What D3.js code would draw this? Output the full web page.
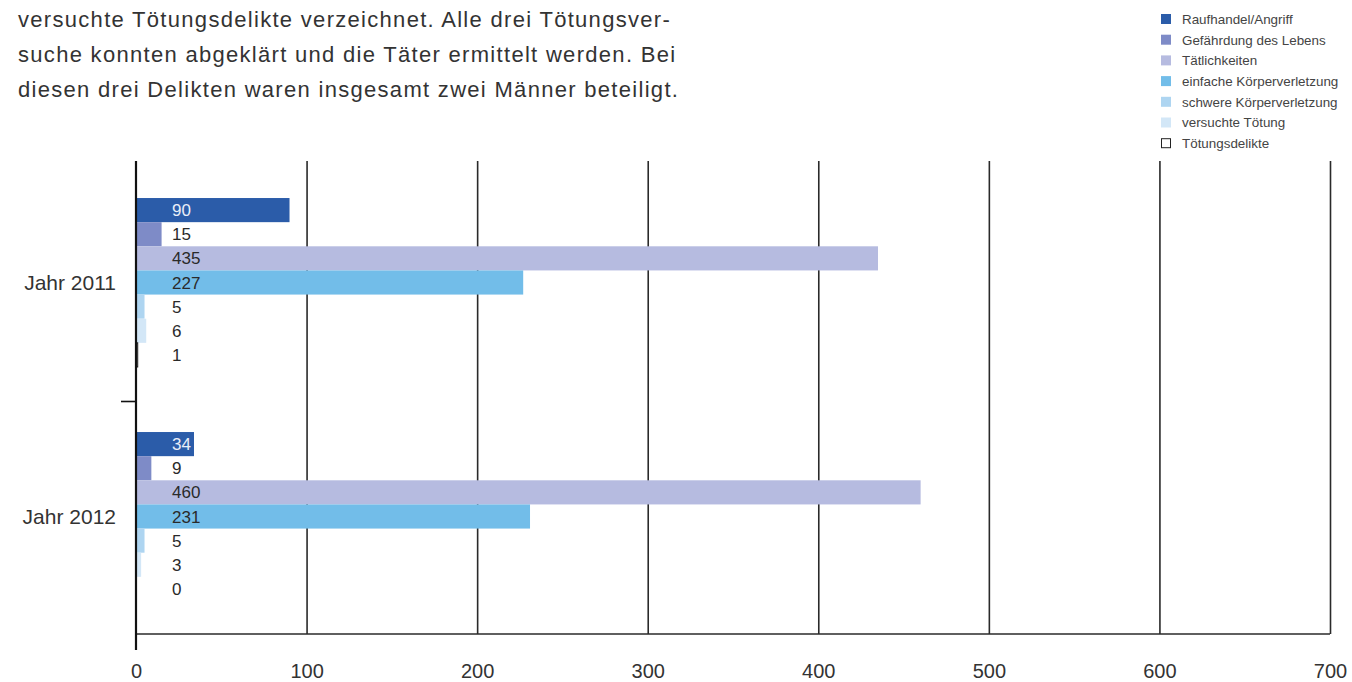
<!DOCTYPE html>
<html>
<head>
<meta charset="utf-8">
<script src="https://cdn.jsdelivr.net/npm/d3@7"></script>
<style>
  body { margin: 0; background: #fff; }
  svg { display: block; font-family: "Liberation Sans", Arial, sans-serif; }
</style>
</head>
<body>
<svg id="chart" width="1352" height="682"></svg>
<script>
// chart data
const years = ['Jahr 2011', 'Jahr 2012'];
const categories = [
  'Raufhandel/Angriff',
  'Gefährdung des Lebens',
  'Tätlichkeiten',
  'einfache Körperverletzung',
  'schwere Körperverletzung',
  'versuchte Tötung',
  'Tötungsdelikte'
];
const values2011 = [90, 15, 435, 227, 5, 6, 1];
const values2012 = [34, 9, 460, 231, 5, 3, 0];
const xTicks = [0, 100, 200, 300, 400, 500, 600, 700];
const colors = ['#2b5ca9', '#7e8bc7', '#b6bbe0', '#72bde9', '#aed5f1', '#d3e7f7', '#ffffff'];
const introLines = [
  'versuchte Tötungsdelikte verzeichnet. Alle drei Tötungsver-',
  'suche konnten abgeklärt und die Täter ermittelt werden. Bei',
  'diesen drei Delikten waren insgesamt zwei Männer beteiligt.'
];

const svg = d3.select('#chart');
const rows = [values2011, values2012];

// layout
const plotLeft = 136, plotRight = 1330, plotTop = 161, plotBottom = 634;

const x = d3.scaleLinear().domain([0, 700]).range([plotLeft, plotRight]);
// outer band: one per year, inner band: one per category
const y = d3.scaleBand().domain(years).range([165.5, 633.5]).paddingInner(0.278).paddingOuter(0.139);
const yInner = d3.scaleBand().domain(categories).range([0, y.bandwidth()]);

// intro paragraph (the source font is wider than Liberation Sans)
svg.append('g')
  .selectAll('text')
  .data(introLines)
  .join('text')
  .attr('x', 18)
  .attr('y', (d, i) => 27 + i * 35)
  .attr('font-size', 22)
  .attr('letter-spacing', 1.3)
  .attr('fill', '#333')
  .text(d => d);

// gridlines + x axis labels
const xAxis = svg.append('g')
  .attr('transform', 'translate(0,' + plotBottom + ')')
  .call(d3.axisBottom(x).tickValues(xTicks).tickSizeInner(-(plotBottom - plotTop)).tickSizeOuter(0).tickPadding(30).tickFormat(d3.format('d')));
xAxis.select('.domain').remove();
xAxis.selectAll('.tick line').attr('stroke', '#2a2a2a').attr('stroke-width', 1.6);
xAxis.selectAll('.tick').filter(d => d === 0).select('line').remove();
xAxis.selectAll('.tick text')
  .attr('font-size', 20)
  .attr('fill', '#333')
  .attr('font-family', '"Liberation Sans", Arial, sans-serif')
  .attr('dy', '0.71em');

// x baseline
svg.append('line')
  .attr('x1', plotLeft).attr('x2', plotRight)
  .attr('y1', plotBottom).attr('y2', plotBottom)
  .attr('stroke', '#2a2a2a').attr('stroke-width', 1.6);

// bars
const groups = svg.append('g')
  .selectAll('g')
  .data(rows)
  .join('g')
  .attr('transform', (d, i) => 'translate(0,' + y(years[i]) + ')');

groups.selectAll('rect')
  .data(d => d)
  .join('rect')
  .attr('x', x(0))
  .attr('y', (d, i) => yInner(categories[i]))
  .attr('width', d => x(d) - x(0))
  .attr('height', yInner.bandwidth())
  .attr('fill', (d, i) => colors[i])
  .attr('stroke', (d, i) => i === 6 && d > 0 ? '#111' : 'none')
  .attr('stroke-width', 1);

groups.selectAll('text')
  .data(d => d)
  .join('text')
  .attr('x', x(0) + 36)
  .attr('y', (d, i) => yInner(categories[i]) + yInner.bandwidth() / 2)
  .attr('dy', '0.36em')
  .attr('font-size', 17)
  .attr('fill', (d, i) => i === 0 ? '#e9eef8' : '#2a2a2a')
  .text(d => d);

// y axis
svg.append('line')
  .attr('x1', plotLeft).attr('x2', plotLeft)
  .attr('y1', plotTop).attr('y2', 650)
  .attr('stroke', '#111').attr('stroke-width', 2.2);

// separator tick between the years
const sepY = y(years[1]) - y.step() * y.paddingInner() / 2 + 2;
svg.append('line')
  .attr('x1', 121).attr('x2', plotLeft)
  .attr('y1', sepY).attr('y2', sepY)
  .attr('stroke', '#111').attr('stroke-width', 1.6);

// year labels
svg.append('g')
  .selectAll('text')
  .data(years)
  .join('text')
  .attr('x', 116)
  .attr('y', d => y(d) + y.bandwidth() / 2)
  .attr('dy', '0.36em')
  .attr('text-anchor', 'end')
  .attr('font-size', 21)
  .attr('fill', '#333')
  .text(d => d);

// legend
const legend = svg.append('g')
  .selectAll('g')
  .data(categories)
  .join('g')
  .attr('transform', (d, i) => 'translate(1161,' + (14 + i * 20.7) + ')');

legend.append('rect')
  .attr('x', (d, i) => i === 6 ? 0.5 : 0)
  .attr('y', (d, i) => i === 6 ? 0.5 : 0)
  .attr('width', (d, i) => i === 6 ? 9 : 10)
  .attr('height', (d, i) => i === 6 ? 9 : 10)
  .attr('fill', (d, i) => colors[i])
  .attr('stroke', (d, i) => i === 6 ? '#222' : 'none');

legend.append('text')
  .attr('x', 21)
  .attr('y', 5)
  .attr('dy', '0.36em')
  .attr('font-size', 13.4)
  .attr('fill', '#444')
  .text(d => d);
</script>
</body>
</html>
